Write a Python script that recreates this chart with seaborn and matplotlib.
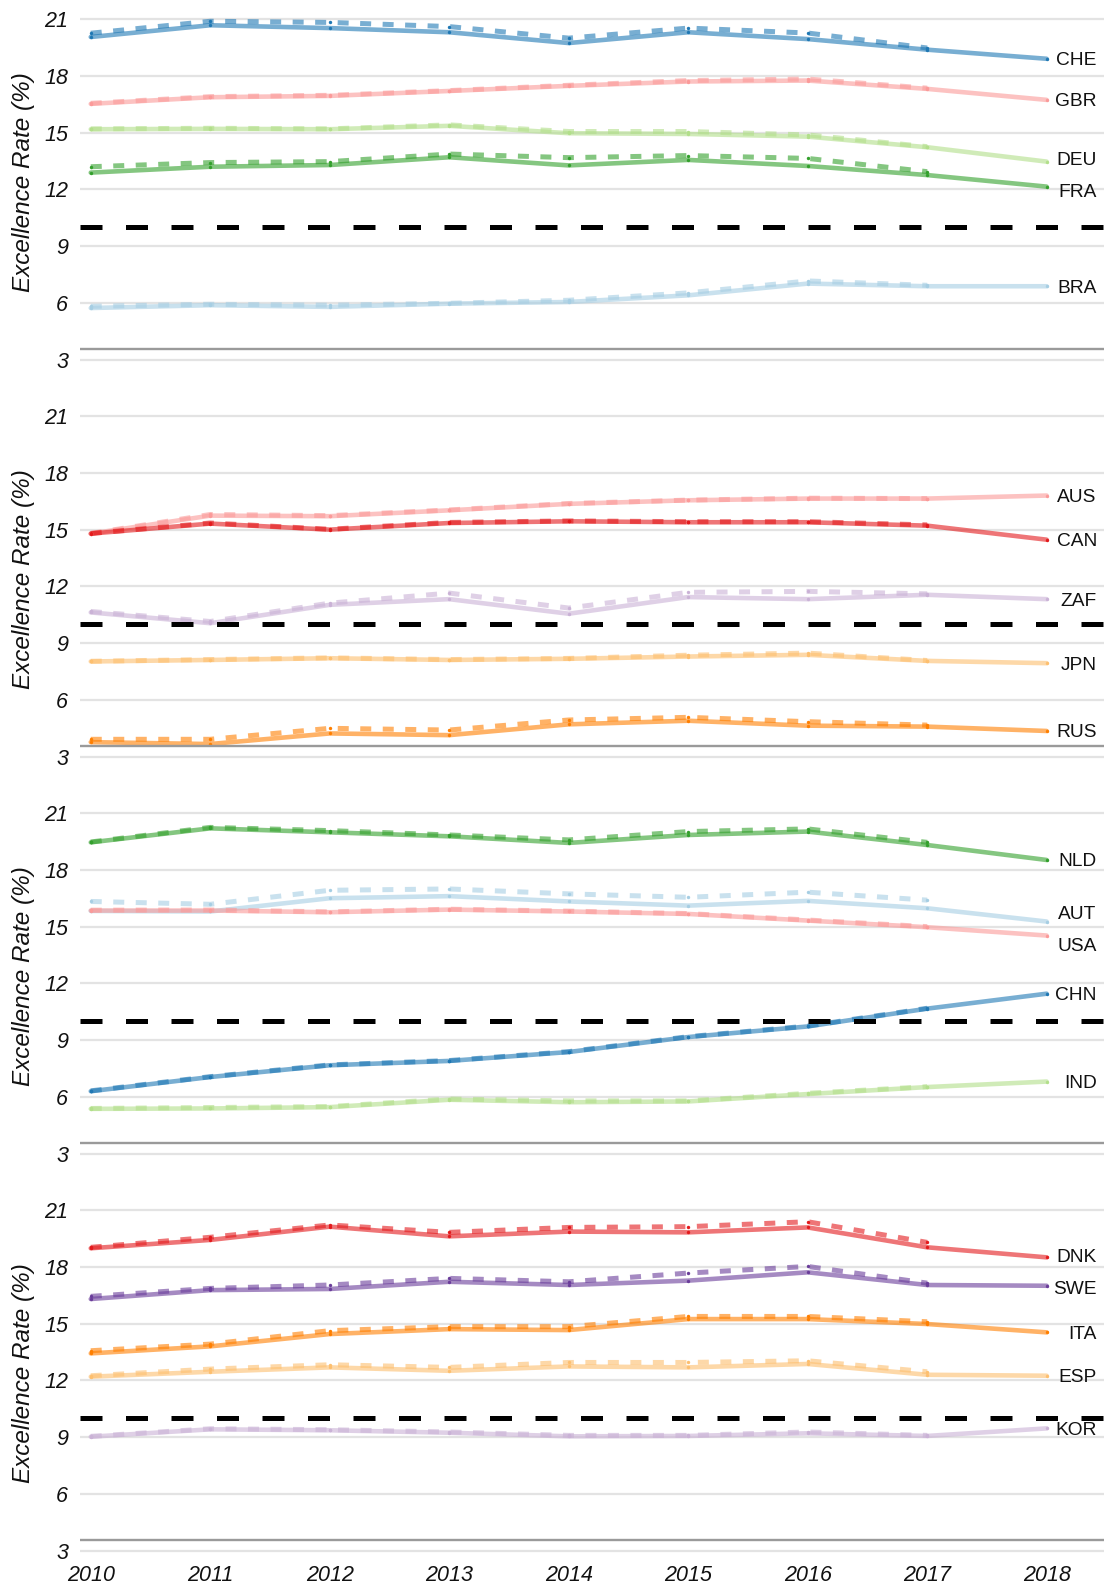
import numpy as np
import pandas as pd
import matplotlib
matplotlib.use("Agg")
import matplotlib.pyplot as plt
import seaborn as sns

# ---------------------------------------------------------------
# Excellence rate (%) by country, two data releases:
# the latest series runs to 2018, the previous one stops at 2017.
# ---------------------------------------------------------------
years = [2010, 2011, 2012, 2013, 2014, 2015, 2016, 2017, 2018]
prev_years = years[:-1]

# group 1
che = [20.05, 20.67, 20.52, 20.30, 19.73, 20.30, 19.94, 19.38, 18.90]
che_prev = [20.25, 20.88, 20.82, 20.60, 19.99, 20.52, 20.26, 19.47]
gbr = [16.52, 16.87, 16.94, 17.20, 17.47, 17.70, 17.75, 17.31, 16.73]
gbr_prev = [16.55, 16.90, 16.97, 17.22, 17.50, 17.75, 17.83, 17.35]
deu = [15.18, 15.20, 15.18, 15.36, 14.97, 14.93, 14.79, 14.23, 13.47]
deu_prev = [15.20, 15.23, 15.20, 15.41, 15.06, 15.06, 14.88, 14.26]
fra = [12.89, 13.20, 13.29, 13.70, 13.27, 13.56, 13.24, 12.76, 12.15]
fra_prev = [13.20, 13.42, 13.47, 13.87, 13.68, 13.79, 13.64, 12.94]
bra = [5.74, 5.89, 5.80, 5.97, 6.06, 6.41, 7.03, 6.89, 6.89]
bra_prev = [5.83, 5.94, 5.89, 5.99, 6.15, 6.54, 7.17, 6.94]

# group 2
aus = [14.79, 15.74, 15.71, 16.02, 16.36, 16.55, 16.64, 16.64, 16.80]
aus_prev = [14.80, 15.80, 15.74, 16.04, 16.38, 16.56, 16.66, 16.64]
can = [14.79, 15.32, 15.00, 15.35, 15.44, 15.39, 15.39, 15.21, 14.47]
can_prev = [14.80, 15.35, 15.02, 15.38, 15.46, 15.42, 15.42, 15.25]
zaf = [10.63, 10.06, 11.03, 11.33, 10.56, 11.44, 11.33, 11.56, 11.33]
zaf_prev = [10.68, 10.15, 11.12, 11.65, 10.86, 11.69, 11.74, 11.61]
jpn = [8.04, 8.12, 8.21, 8.12, 8.18, 8.30, 8.39, 8.07, 7.95]
jpn_prev = [8.05, 8.14, 8.23, 8.14, 8.20, 8.37, 8.48, 8.09]
rus = [3.78, 3.68, 4.24, 4.15, 4.72, 4.91, 4.65, 4.60, 4.37]
rus_prev = [3.93, 3.93, 4.51, 4.42, 4.95, 5.09, 4.86, 4.68]

# group 3
nld = [19.45, 20.19, 19.98, 19.77, 19.42, 19.84, 20.02, 19.31, 18.52]
nld_prev = [19.47, 20.24, 20.07, 19.84, 19.58, 20.02, 20.16, 19.45]
aut = [15.83, 15.80, 16.50, 16.61, 16.33, 16.11, 16.36, 15.97, 15.27]
aut_prev = [16.33, 16.18, 16.92, 16.99, 16.73, 16.55, 16.82, 16.40]
usa = [15.85, 15.85, 15.76, 15.90, 15.80, 15.67, 15.32, 14.97, 14.53]
usa_prev = [15.87, 15.88, 15.78, 15.92, 15.82, 15.69, 15.35, 15.00]
chn = [6.31, 7.06, 7.68, 7.91, 8.38, 9.17, 9.73, 10.67, 11.46]
chn_prev = [6.33, 7.08, 7.70, 7.93, 8.40, 9.19, 9.75, 10.69]
ind = [5.38, 5.40, 5.47, 5.86, 5.73, 5.77, 6.16, 6.53, 6.82]
ind_prev = [5.40, 5.45, 5.50, 5.90, 5.80, 5.80, 6.20, 6.55]

# group 4
dnk = [18.98, 19.42, 20.12, 19.61, 19.86, 19.82, 20.08, 19.03, 18.50]
dnk_prev = [19.03, 19.56, 20.21, 19.82, 20.08, 20.12, 20.38, 19.29]
swe = [16.30, 16.77, 16.83, 17.21, 17.04, 17.27, 17.71, 17.04, 17.00]
swe_prev = [16.44, 16.86, 17.04, 17.39, 17.21, 17.67, 18.02, 17.14]
ita = [13.43, 13.80, 14.45, 14.71, 14.66, 15.24, 15.24, 14.98, 14.54]
ita_prev = [13.57, 13.92, 14.63, 14.84, 14.84, 15.38, 15.38, 15.10]
esp = [12.20, 12.46, 12.69, 12.51, 12.74, 12.69, 12.87, 12.30, 12.25]
esp_prev = [12.25, 12.60, 12.83, 12.69, 12.95, 12.95, 13.04, 12.46]
kor = [9.03, 9.42, 9.37, 9.24, 9.05, 9.07, 9.21, 9.07, 9.47]
kor_prev = [9.05, 9.45, 9.40, 9.28, 9.10, 9.10, 9.28, 9.10]

groups = [
    ["CHE", "GBR", "DEU", "FRA", "BRA"],
    ["AUS", "CAN", "ZAF", "JPN", "RUS"],
    ["NLD", "AUT", "USA", "CHN", "IND"],
    ["DNK", "SWE", "ITA", "ESP", "KOR"],
]

latest = {"CHE": che, "GBR": gbr, "DEU": deu, "FRA": fra, "BRA": bra,
          "AUS": aus, "CAN": can, "ZAF": zaf, "JPN": jpn, "RUS": rus,
          "NLD": nld, "AUT": aut, "USA": usa, "CHN": chn, "IND": ind,
          "DNK": dnk, "SWE": swe, "ITA": ita, "ESP": esp, "KOR": kor}
previous = {"CHE": che_prev, "GBR": gbr_prev, "DEU": deu_prev, "FRA": fra_prev,
            "BRA": bra_prev, "AUS": aus_prev, "CAN": can_prev, "ZAF": zaf_prev,
            "JPN": jpn_prev, "RUS": rus_prev, "NLD": nld_prev, "AUT": aut_prev,
            "USA": usa_prev, "CHN": chn_prev, "IND": ind_prev, "DNK": dnk_prev,
            "SWE": swe_prev, "ITA": ita_prev, "ESP": esp_prev, "KOR": kor_prev}

benchmark = 10.0
baseline = 3.6
y_ticks = [3, 6, 9, 12, 15, 18, 21]

# ColorBrewer "Paired" hues assigned per country
pal = sns.color_palette("Paired", 10)
country_color = {
    "CHE": pal[1], "GBR": pal[4], "DEU": pal[2], "FRA": pal[3], "BRA": pal[0],
    "AUS": pal[4], "CAN": pal[5], "ZAF": pal[8], "JPN": pal[6], "RUS": pal[7],
    "NLD": pal[3], "AUT": pal[0], "USA": pal[4], "CHN": pal[1], "IND": pal[2],
    "DNK": pal[5], "SWE": pal[9], "ITA": pal[7], "ESP": pal[6], "KOR": pal[8],
}

# long table for seaborn
rows = []
for c in latest:
    for y, v in zip(years, latest[c]):
        rows.append((c, y, v, "latest"))
    for y, v in zip(prev_years, previous[c]):
        rows.append((c, y, v, "previous"))
df = pd.DataFrame(rows, columns=["country", "year", "rate", "release"])

sns.set_theme(style="white")
plt.rcParams["font.family"] = ["Liberation Sans", "DejaVu Sans"]

W, H = 1104, 1590
fig = plt.figure(figsize=(W / 100, H / 100), dpi=100)

ylo, yhi = 2.5, 21.5
px_per_unit = 18.94
left_px, top21_px, step_px = 80, 19, 397


def spread_labels(values, min_gap=1.7, iters=200):
    """Push label positions apart so neighbouring labels don't collide."""
    pos = dict(values)
    for _ in range(iters):
        moved = False
        order = sorted(pos, key=lambda k: -pos[k])
        for a, b in zip(order[:-1], order[1:]):
            gap = pos[a] - pos[b]
            if gap < min_gap - 1e-6:
                shift = (min_gap - gap) / 2
                pos[a] += shift
                pos[b] -= shift
                moved = True
        if not moved:
            break
    return pos


axes = []
for i, group in enumerate(groups):
    top_px = top21_px + i * step_px - (yhi - 21) * px_per_unit
    h_px = (yhi - ylo) * px_per_unit
    ax = fig.add_axes([left_px / W, 1 - (top_px + h_px) / H,
                       (W - left_px) / W, h_px / H])
    axes.append(ax)

    for c in group:
        col = country_color[c]
        sub_l = df[(df.country == c) & (df.release == "latest")]
        sub_p = df[(df.country == c) & (df.release == "previous")]
        sns.lineplot(data=sub_l, x="year", y="rate", color=col, alpha=0.6,
                     linewidth=3.3, errorbar=None, ax=ax, zorder=3,
                     solid_capstyle="round")
        sns.lineplot(data=sub_p, x="year", y="rate", color=col, alpha=0.6,
                     linewidth=3.6, errorbar=None, ax=ax, zorder=3,
                     linestyle=(0, (2.2, 2.3)))
        sns.scatterplot(data=pd.concat([sub_l, sub_p]), x="year", y="rate",
                        color=col, s=6, linewidth=0, ax=ax, zorder=4)

    # country labels at the right end, nudged apart where crowded
    ends = spread_labels({c: latest[c][-1] for c in group})
    for c in group:
        ax.text(2018.42, ends[c], c, ha="right", va="center_baseline",
                fontsize=13.8, color="#111111", zorder=6)

    ax.axhline(benchmark, color="black", linewidth=3.6,
               linestyle=(0, (4.4, 4.7)), zorder=5)
    ax.axhline(baseline, color="#9a9a9a", linewidth=1.7, zorder=5)

    ax.set_xlim(2009.91, 2018.48)
    ax.set_ylim(ylo, yhi)
    ax.set_yticks(y_ticks)
    ax.set_yticklabels([str(t) for t in y_ticks], fontstyle="italic",
                       fontsize=15.5, color="#111111")
    ax.set_xticks(years)
    ax.grid(axis="y", color="#e3e3e3", linewidth=1.6)
    ax.grid(axis="x", visible=False)
    ax.set_axisbelow(True)
    for s in ax.spines.values():
        s.set_visible(False)
    ax.tick_params(axis="y", length=0, pad=8.5)
    ax.tick_params(axis="x", length=0, pad=3.5)
    ax.set_xlabel("")
    ax.set_ylabel("Excellence Rate (%)", fontstyle="italic", fontsize=17.5,
                  color="#111111")
    ax.yaxis.set_label_coords(-0.044, (12.37 - ylo) / (yhi - ylo))
    if i < len(groups) - 1:
        ax.tick_params(axis="x", labelbottom=False)
    else:
        ax.set_xticklabels([str(y) for y in years], fontstyle="italic",
                           fontsize=15.5, color="#111111")

fig.savefig("out.png", dpi=100)
